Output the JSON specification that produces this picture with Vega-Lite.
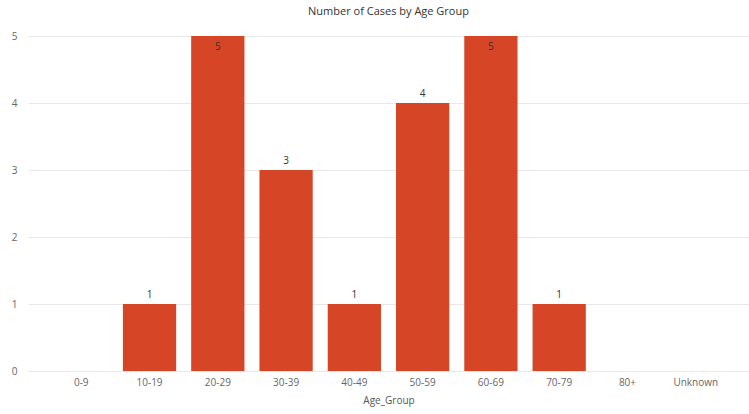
{
  "$schema": "https://vega.github.io/schema/vega-lite/v6.json",
  "autosize": {"type": "none"},
  "padding": {"left": 28, "top": 36, "right": 0, "bottom": 43},
  "width": 721,
  "height": 335,
  "background": "#ffffff",
  "title": {
    "text": "Number of Cases by Age Group",
    "anchor": "middle",
    "font": "Open Sans",
    "fontSize": 11,
    "fontWeight": "normal",
    "color": "#333333",
    "offset": 14
  },
  "config": {
    "view": {"stroke": null},
    "font": "Open Sans"
  },
  "data": {
    "values": [
      {"Age_Group": "0-9", "Cases": 0},
      {"Age_Group": "10-19", "Cases": 1},
      {"Age_Group": "20-29", "Cases": 5},
      {"Age_Group": "30-39", "Cases": 3},
      {"Age_Group": "40-49", "Cases": 1},
      {"Age_Group": "50-59", "Cases": 4},
      {"Age_Group": "60-69", "Cases": 5},
      {"Age_Group": "70-79", "Cases": 1},
      {"Age_Group": "80+", "Cases": 0},
      {"Age_Group": "Unknown", "Cases": 0}
    ]
  },
  "encoding": {
    "x": {
      "field": "Age_Group",
      "type": "nominal",
      "sort": null,
      "scale": {"paddingInner": 0.22, "paddingOuter": 0.39},
      "axis": {
        "labelAngle": 0,
        "domain": false,
        "ticks": false,
        "labelPadding": 6,
        "labelColor": "#666666",
        "labelFontSize": 10,
        "title": "Age_Group",
        "titleColor": "#555555",
        "titleFontSize": 10,
        "titleFontWeight": "normal",
        "titlePadding": 8
      }
    },
    "y": {
      "field": "Cases",
      "type": "quantitative",
      "scale": {"domain": [0, 5], "nice": false},
      "axis": {
        "values": [0, 1, 2, 3, 4, 5],
        "domain": false,
        "ticks": false,
        "labelPadding": 11,
        "labelColor": "#666666",
        "labelFontSize": 10,
        "gridColor": "#e8e8e8",
        "title": null
      }
    }
  },
  "layer": [
    {"mark": {"type": "bar", "color": "#D64525"}},
    {
      "transform": [{"filter": "datum.Cases > 0 && datum.Cases < 5"}],
      "mark": {"type": "text", "baseline": "bottom", "dy": -4, "fontSize": 10, "color": "#333333"},
      "encoding": {"text": {"field": "Cases", "type": "quantitative"}}
    },
    {
      "transform": [{"filter": "datum.Cases >= 5"}],
      "mark": {"type": "text", "baseline": "top", "dy": 6, "fontSize": 10, "color": "#333333"},
      "encoding": {"text": {"field": "Cases", "type": "quantitative"}}
    }
  ]
}
